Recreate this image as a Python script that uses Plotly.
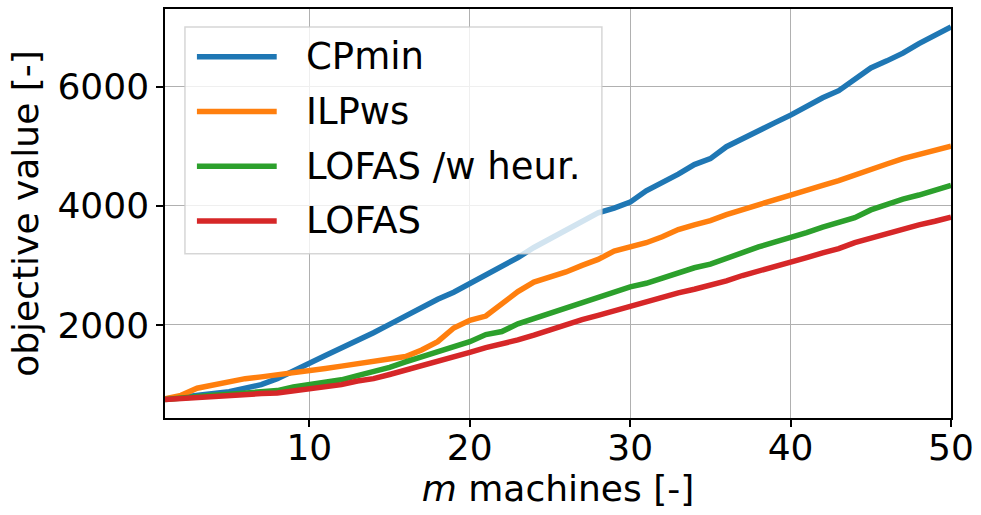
import plotly.graph_objects as go

# number of machines
machines = list(range(1, 51))

cpmin = [760, 790, 810, 840, 880, 940, 1000, 1100, 1220, 1360,
         1490, 1610, 1740, 1870, 2010, 2150, 2300, 2430, 2550, 2690,
         2840, 2990, 3130, 3300, 3450, 3600, 3740, 3880, 3960, 4060,
         4250, 4380, 4530, 4690, 4790, 4990, 5130, 5260, 5390, 5520,
         5670, 5810, 5930, 6120, 6310, 6430, 6560, 6720, 6850, 7000]

ilpws = [760, 820, 940, 1000, 1060, 1100, 1130, 1160, 1200, 1240,
         1270, 1310, 1350, 1380, 1420, 1470, 1580, 1720, 1950, 2080,
         2150, 2360, 2560, 2720, 2800, 2890, 3000, 3100, 3240, 3310,
         3380, 3480, 3600, 3680, 3750, 3850, 3940, 4020, 4100, 4180,
         4270, 4340, 4420, 4520, 4610, 4700, 4790, 4860, 4920, 5000]

lofas_heur = [750, 780, 800, 820, 840, 860, 880, 900, 960, 1000,
              1040, 1080, 1150, 1210, 1290, 1380, 1470, 1560, 1650, 1720,
              1840, 1890, 2020, 2110, 2200, 2300, 2380, 2470, 2570, 2640,
              2700, 2790, 2880, 2960, 3020, 3120, 3230, 3310, 3390, 3460,
              3550, 3640, 3730, 3800, 3930, 4030, 4110, 4180, 4250, 4340]

lofas = [750, 770, 790, 800, 820, 840, 850, 860, 890, 930,
         970, 1000, 1060, 1100, 1170, 1240, 1310, 1400, 1460, 1540,
         1620, 1680, 1750, 1830, 1920, 2010, 2090, 2160, 2240, 2310,
         2390, 2460, 2540, 2600, 2660, 2740, 2830, 2900, 2980, 3060,
         3130, 3210, 3280, 3380, 3460, 3540, 3620, 3680, 3740, 3810]

series_names = ["CPmin", "ILPws", "LOFAS /w heur.", "LOFAS"]
series_values = [cpmin, ilpws, lofas_heur, lofas]
colors = ["#1f77b4", "#ff7f0e", "#2ca02c", "#d62728"]

x_ticks = [10, 20, 30, 40, 50]
y_ticks = [2000, 4000, 6000]

FONT = "DejaVu Sans"
FS = 36
LW = 5.5

fig = go.Figure()
for name, vals, col in zip(series_names, series_values, colors):
    fig.add_trace(go.Scatter(x=machines, y=vals, mode="lines", name=name,
                             line=dict(color=col, width=LW), showlegend=False))

# legend box drawn in paper coordinates (semi-transparent, like a framed legend)
W, H = 981, 515
ml, mr, mt, mb = 165, 28, 7, 97
pw, ph = W - ml - mr, H - mt - mb

def px(xpix):
    return (xpix - ml) / pw

def py(ypix):
    return 1 - (ypix - mt) / ph

shapes = [dict(type="rect", xref="paper", yref="paper",
               x0=px(185), x1=px(603), y0=py(253), y1=py(25),
               fillcolor="rgba(255,255,255,0.8)",
               line=dict(color="rgba(204,204,204,0.8)", width=1.5),
               layer="above")]
annotations = []
row_y = [55, 110, 165, 220]
for name, col, ry in zip(series_names, colors, row_y):
    shapes.append(dict(type="line", xref="paper", yref="paper",
                       x0=px(197), x1=px(277), y0=py(ry), y1=py(ry),
                       line=dict(color=col, width=LW), layer="above"))
    annotations.append(dict(xref="paper", yref="paper", x=px(304), y=py(ry),
                            text=name, showarrow=False, xanchor="left",
                            yanchor="middle",
                            font=dict(family=FONT, size=37, color="black")))

axis_common = dict(showline=True, linecolor="black", linewidth=1.5, mirror=True,
                   ticks="outside", ticklen=7, tickwidth=1.5, tickcolor="black",
                   showgrid=True, gridcolor="#b0b0b0", gridwidth=1.3,
                   zeroline=False,
                   tickfont=dict(family=FONT, size=FS, color="black"))

fig.update_layout(
    width=W, height=H,
    margin=dict(l=ml, r=mr, t=mt, b=mb),
    plot_bgcolor="white", paper_bgcolor="white",
    font=dict(family=FONT, size=FS, color="black"),
    shapes=shapes, annotations=annotations,
    xaxis=dict(range=[1, 50], tickvals=x_ticks, ticklabelstandoff=-10,
               title=dict(text="<i>m</i> machines [-]", standoff=4,
                          font=dict(family=FONT, size=FS)),
               **axis_common),
    yaxis=dict(range=[440, 7300], tickvals=y_ticks,
               title=dict(text="objective value [-]", standoff=8,
                          font=dict(family=FONT, size=FS)),
               **axis_common),
)

fig.write_html("out.html")
